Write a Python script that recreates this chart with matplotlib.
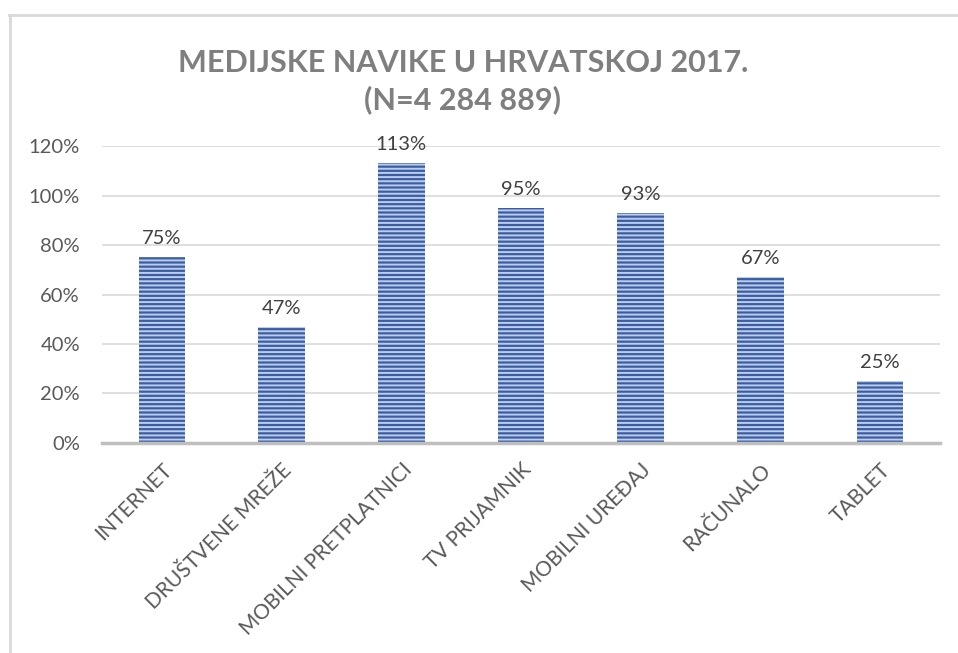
import matplotlib
matplotlib.use("Agg")
import matplotlib.pyplot as plt
from matplotlib.lines import Line2D

# podaci s grafa
kategorije = ["INTERNET", "DRUŠTVENE MREŽE", "MOBILNI PRETPLATNICI", "TV PRIJAMNIK",
              "MOBILNI UREĐAJ", "RAČUNALO", "TABLET"]
postotci = [0.75, 0.47, 1.13, 0.95, 0.93, 0.67, 0.25]
y_ticks = [0, 0.2, 0.4, 0.6, 0.8, 1.0, 1.2]
naslov = "MEDIJSKE NAVIKE U HRVATSKOJ 2017.\n(N=4 284 889)"

plt.rcParams['font.family'] = ['Lato', 'DejaVu Sans']
plt.rcParams['hatch.linewidth'] = 1.4

fig = plt.figure(figsize=(9.58, 6.53), dpi=100)
ax = fig.add_axes([0.1067, 0.3216, 0.8744, 0.4548])

x = range(len(kategorije))
bars = ax.bar(x, postotci, width=0.39, color='#3a5da4', hatch='----',
              edgecolor='#bccdea', linewidth=0, zorder=3)

for i, v in enumerate(postotci):
    ax.text(i, v + 0.04, "{:.0f}%".format(v * 100), ha='center', va='bottom',
            fontsize=14.5, color='#404040')

ax.set_xlim(-0.5, len(kategorije) - 0.5)
ax.set_ylim(0, 1.2)
ax.set_yticks(y_ticks)
ax.set_yticklabels(["{:.0f}%".format(t * 100) for t in y_ticks], fontsize=14.5, color='#595959')
ax.yaxis.grid(True, color='#d9d9d9', linewidth=1.2, zorder=0)
ax.set_axisbelow(True)
ax.tick_params(axis='both', length=0)
ax.tick_params(axis='y', pad=16)

ax.set_xticks(list(x))
ax.set_xticklabels(kategorije, rotation=45, ha='right', rotation_mode='anchor',
                   fontsize=15, color='#595959')
ax.tick_params(axis='x', pad=12)

for s in ['top', 'right', 'left']:
    ax.spines[s].set_visible(False)
ax.spines['bottom'].set_color('#bfbfbf')
ax.spines['bottom'].set_linewidth(2.5)
ax.spines['bottom'].set_zorder(4)

fig.text(0.483, 0.875, naslov, ha='center', va='center', fontsize=22,
         fontweight='bold', color='#7f7f7f', linespacing=1.35)

# okvir
fig.add_artist(Line2D([0.009, 1.0], [0.977, 0.977], color='#d9d9d9', linewidth=2))
fig.add_artist(Line2D([0.0105, 0.0105], [0.0, 0.977], color='#d9d9d9', linewidth=2))

fig.savefig("out.png", dpi=100)
